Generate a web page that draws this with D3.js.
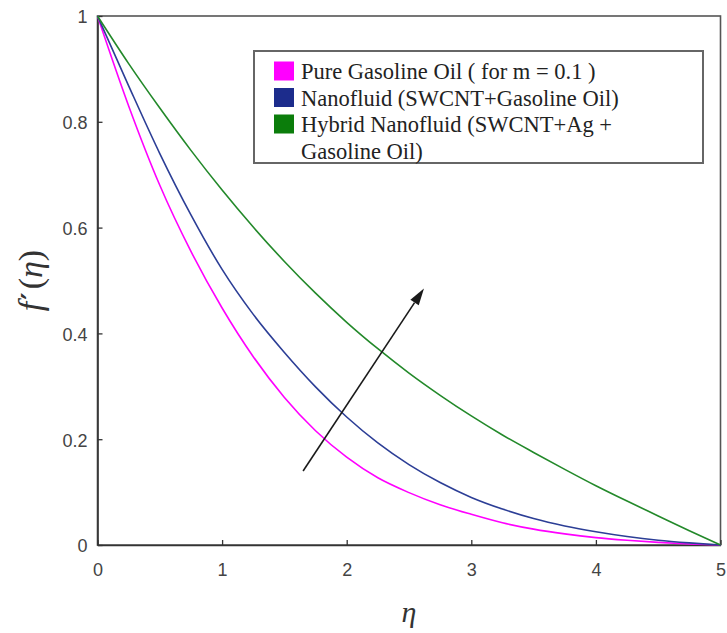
<!DOCTYPE html>
<html>
<head>
<meta charset="utf-8">
<script src="https://cdn.jsdelivr.net/npm/d3@7"></script>
<style>
  html, body { margin: 0; padding: 0; background: #fff; }
  svg { display: block; }
</style>
</head>
<body>
<svg id="chart" width="727" height="633"></svg>
<script>
// Similarity variable eta
const eta = [0, 0.25, 0.5, 0.75, 1, 1.25, 1.5, 1.75, 2, 2.25, 2.5, 2.75, 3,
             3.25, 3.5, 3.75, 4, 4.25, 4.5, 4.75, 5];

// Velocity profiles f'(eta)
const pureGasoline = [1, 0.83, 0.68, 0.555, 0.448, 0.356, 0.279, 0.216, 0.166, 0.127,
                      0.099, 0.076, 0.058, 0.042, 0.03, 0.021, 0.014, 0.009, 0.005, 0.002, 0];
const nanofluid = [1, 0.868, 0.74, 0.624, 0.521, 0.436, 0.364, 0.299, 0.242, 0.193,
                   0.152, 0.118, 0.09, 0.068, 0.05, 0.036, 0.025, 0.016, 0.009, 0.004, 0];
const hybrid = [1, 0.91, 0.826, 0.746, 0.671, 0.601, 0.536, 0.476, 0.421, 0.371,
                0.325, 0.283, 0.244, 0.208, 0.175, 0.143, 0.112, 0.083, 0.055, 0.027, 0];

const seriesNames = [
  ["Pure Gasoline Oil ( for m = 0.1 )"],
  ["Nanofluid (SWCNT+Gasoline Oil)"],
  ["Hybrid Nanofluid (SWCNT+Ag +", "Gasoline Oil)"]
];
const seriesColors = ["#ff00ff", "#2c3e96", "#23892a"];
const legendSwatch = ["#ff00ff", "#1c2c8c", "#0b7d0b"];

const xTicks = [0, 1, 2, 3, 4, 5];
const yTicks = [0, 0.2, 0.4, 0.6, 0.8, 1];

// Arrow showing the trend across the profiles (data coordinates)
const arrowFrom = [1.65, 0.14];
const arrowTo = [2.62, 0.485];

const svg = d3.select("#chart");
const x = d3.scaleLinear().domain([0, 5]).range([97.5, 720.5]);
const y = d3.scaleLinear().domain([0, 1]).range([545, 16]);

// Frame
svg.append("rect")
  .attr("x", x(0)).attr("y", y(1))
  .attr("width", x(5) - x(0)).attr("height", y(0) - y(1))
  .attr("fill", "none").attr("stroke", "#555").attr("stroke-width", 1.6);

// Axes with inward ticks
const xAxis = svg.append("g")
  .attr("transform", `translate(0,${y(0)})`)
  .call(d3.axisBottom(x).tickValues(xTicks).tickSizeInner(-5).tickSizeOuter(0)
        .tickFormat(d3.format("d")));
const yAxis = svg.append("g")
  .attr("transform", `translate(${x(0)},0)`)
  .call(d3.axisLeft(y).tickValues(yTicks).tickSizeInner(-5).tickSizeOuter(0)
        .tickFormat(d => d === 0 || d === 1 ? d3.format("d")(d) : d3.format(".1f")(d)));

[xAxis, yAxis].forEach(g => {
  g.select(".domain").attr("stroke", "#333").attr("stroke-width", 1.6);
  g.selectAll(".tick line").attr("stroke", "#333").attr("stroke-width", 1.3);
  g.selectAll(".tick text")
    .attr("fill", "#444")
    .style("font-family", "'Liberation Sans', Arial, sans-serif")
    .style("font-size", "18px");
});
xAxis.selectAll(".tick text").attr("y", 18);
yAxis.selectAll(".tick text").attr("x", -10).attr("dy", "0.38em");

// Curves
const line = d3.line()
  .x(d => x(d[0]))
  .y(d => y(d[1]))
  .curve(d3.curveMonotoneX);

[pureGasoline, nanofluid, hybrid].forEach((vals, i) => {
  svg.append("path")
    .datum(eta.map((e, k) => [e, vals[k]]))
    .attr("d", line)
    .attr("fill", "none")
    .attr("stroke", seriesColors[i])
    .attr("stroke-width", 1.6);
});

// Trend arrow with a filled head at the tip
const ax0 = x(arrowFrom[0]), ay0 = y(arrowFrom[1]);
const ax1 = x(arrowTo[0]), ay1 = y(arrowTo[1]);
const ang = Math.atan2(ay1 - ay0, ax1 - ax0);
const hl = 17, hw = 5;
const bx = ax1 - hl * Math.cos(ang), by = ay1 - hl * Math.sin(ang);
svg.append("line")
  .attr("x1", ax0).attr("y1", ay0).attr("x2", bx).attr("y2", by)
  .attr("stroke", "#1a1a1a").attr("stroke-width", 1.6);
svg.append("path")
  .attr("d", `M${ax1},${ay1} L${bx + hw * Math.sin(ang)},${by - hw * Math.cos(ang)} L${bx - hw * Math.sin(ang)},${by + hw * Math.cos(ang)} Z`)
  .attr("fill", "#1a1a1a");

// Legend
const lg = svg.append("g");
lg.append("rect")
  .attr("x", 254).attr("y", 51).attr("width", 449).attr("height", 112)
  .attr("fill", "#fff").attr("stroke", "#666").attr("stroke-width", 2);

const rowBase = [79, 105.5, 132];
seriesNames.forEach((lines, i) => {
  lg.append("rect")
    .attr("x", 274).attr("y", rowBase[i] - 17.5)
    .attr("width", 20).attr("height", 19)
    .attr("fill", legendSwatch[i]);
  lines.forEach((t, j) => {
    lg.append("text")
      .attr("x", 301).attr("y", rowBase[i] + j * 26.5)
      .attr("fill", "#222")
      .style("font-family", "'Liberation Serif', 'Times New Roman', serif")
      .style("font-size", "22.5px")
      .text(t);
  });
});

// Axis titles
svg.append("text")
  .attr("x", x(2.5)).attr("y", 622)
  .attr("text-anchor", "middle")
  .attr("fill", "#333")
  .style("font-family", "'Liberation Serif', 'Times New Roman', serif")
  .style("font-style", "italic")
  .style("font-size", "30px")
  .text("η");

const yl = svg.append("text")
  .attr("transform", `translate(42,${(y(0) + y(1)) / 2}) rotate(-90)`)
  .attr("text-anchor", "middle")
  .attr("fill", "#333")
  .style("font-family", "'Liberation Serif', 'Times New Roman', serif")
  .style("font-size", "34px");
yl.append("tspan").style("font-style", "italic").text("f");
yl.append("tspan")
  .style("font-family", "'DejaVu Serif', serif")
  .style("font-weight", "bold")
  .style("font-size", "28px")
  .attr("dx", 2)
  .text("′");
yl.append("tspan").attr("dx", 3).text("(");
yl.append("tspan").style("font-style", "italic").text("η");
yl.append("tspan").text(")");
</script>
</body>
</html>
